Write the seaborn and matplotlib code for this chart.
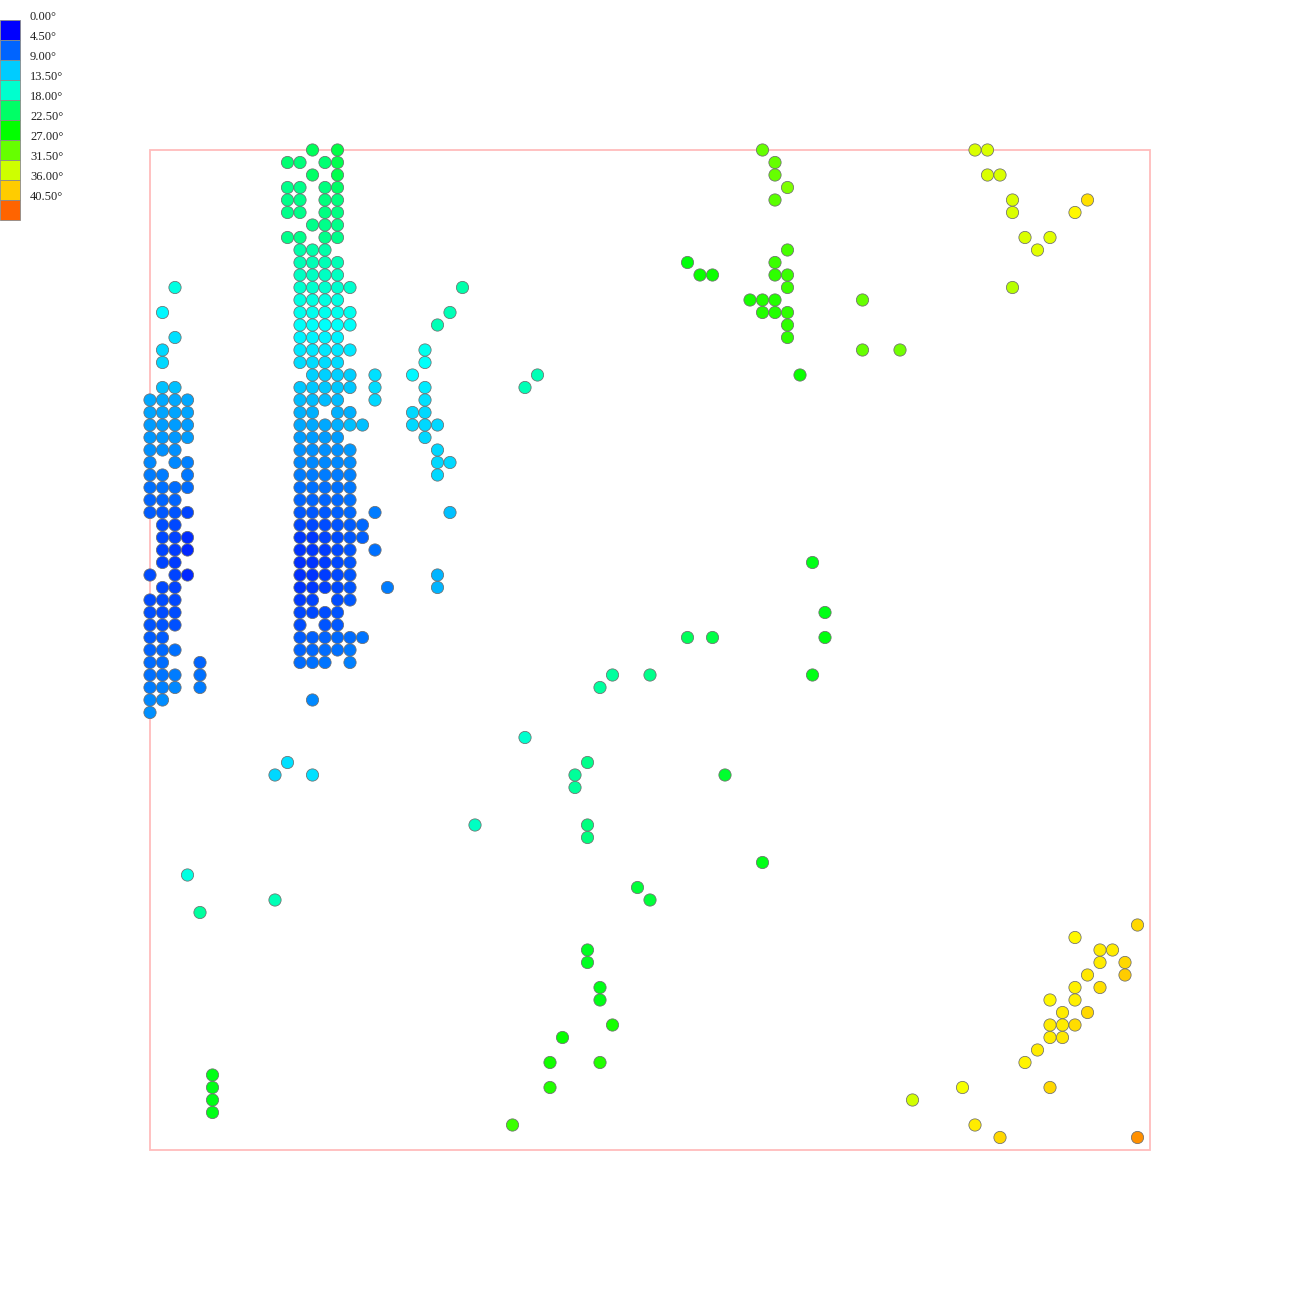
import numpy as np
import pandas as pd
import matplotlib
matplotlib.use("Agg")
import matplotlib.pyplot as plt
from matplotlib.colors import ListedColormap, hsv_to_rgb
from matplotlib.patches import Rectangle
import seaborn as sns

# ---------------- data: (grid column i, grid row j, angle in degrees) ----------------
left_cluster = [
    (2, 11, 12.5), (1, 13, 11.0), (2, 15, 10.0), (1, 16, 9.5), (1, 17, 9.5),
    (1, 19, 8.5), (2, 19, 8.5),
    (0, 20, 7.5), (1, 20, 7.5), (2, 20, 7.5), (3, 20, 7.5),
    (0, 21, 7.3), (1, 21, 7.3), (2, 21, 7.3), (3, 21, 7.3),
    (0, 22, 7.0), (1, 22, 7.0), (2, 22, 7.0), (3, 22, 7.0),
    (0, 23, 6.8), (1, 23, 6.8), (2, 23, 6.8), (3, 23, 7.0),
    (0, 24, 6.5), (1, 24, 6.5), (2, 24, 6.5),
    (0, 25, 6.0), (2, 25, 6.0), (3, 25, 5.8),
    (0, 26, 5.5), (1, 26, 5.5), (3, 26, 5.3),
    (0, 27, 5.0), (1, 27, 5.0), (2, 27, 4.8), (3, 27, 4.8),
    (0, 28, 4.5), (1, 28, 4.5), (2, 28, 4.5),
    (0, 29, 4.2), (1, 29, 4.0), (2, 29, 3.8), (3, 29, 3.0),
    (1, 30, 3.5), (2, 30, 3.3),
    (1, 31, 3.2), (2, 31, 3.0), (3, 31, 2.0),
    (1, 32, 3.0), (2, 32, 2.8), (3, 32, 1.8),
    (1, 33, 3.0), (2, 33, 2.8),
    (0, 34, 3.5), (2, 34, 3.0), (3, 34, 1.8),
    (1, 35, 3.2), (2, 35, 3.0),
    (0, 36, 3.5), (1, 36, 3.4), (2, 36, 3.3),
    (0, 37, 3.6), (1, 37, 3.5), (2, 37, 3.4),
    (0, 38, 3.8), (1, 38, 3.7), (2, 38, 3.6),
    (0, 39, 4.2), (1, 39, 4.2),
    (0, 40, 4.5), (1, 40, 4.6), (2, 40, 5.0),
    (0, 41, 4.8), (1, 41, 4.9), (4, 41, 4.5),
    (0, 42, 5.0), (1, 42, 5.2), (2, 42, 5.5), (4, 42, 5.0),
    (0, 43, 5.5), (1, 43, 5.7), (2, 43, 6.0), (4, 43, 5.5),
    (0, 44, 6.0), (1, 44, 6.2),
    (0, 45, 6.5),
]

center_column = [
    (13, 0, 18.5), (15, 0, 19.5),
    (11, 1, 17.5), (12, 1, 17.2), (14, 1, 17.5), (15, 1, 19.0),
    (13, 2, 18.0), (15, 2, 19.0),
    (11, 3, 16.5), (12, 3, 16.5), (14, 3, 17.0), (15, 3, 18.0),
    (11, 4, 16.5), (12, 4, 16.5), (14, 4, 17.0), (15, 4, 17.0),
    (11, 5, 16.5), (12, 5, 16.5), (14, 5, 16.8), (15, 5, 16.8),
    (13, 6, 16.5), (14, 6, 16.5), (15, 6, 16.5),
    (11, 7, 16.5), (12, 7, 16.5), (14, 7, 16.5), (15, 7, 16.5),
    (12, 8, 15.0), (13, 8, 15.0), (14, 8, 15.0),
    (12, 9, 14.5), (13, 9, 14.5), (14, 9, 14.5), (15, 9, 14.5),
    (12, 10, 14.0), (13, 10, 14.0), (14, 10, 14.0), (15, 10, 14.0),
    (12, 11, 13.5), (13, 11, 13.5), (14, 11, 13.5), (15, 11, 13.5), (16, 11, 13.5),
    (12, 12, 12.5), (13, 12, 12.5), (14, 12, 12.5), (15, 12, 12.5),
    (12, 13, 12.0), (13, 13, 12.0), (14, 13, 12.0), (15, 13, 12.0), (16, 13, 12.0),
    (12, 14, 11.5), (13, 14, 11.5), (14, 14, 11.5), (15, 14, 11.5), (16, 14, 11.5),
    (12, 15, 10.8), (13, 15, 10.8), (14, 15, 10.8), (15, 15, 10.8),
    (12, 16, 10.3), (13, 16, 10.3), (14, 16, 10.3), (15, 16, 10.3), (16, 16, 10.3),
    (12, 17, 9.8), (13, 17, 9.8), (14, 17, 9.8), (15, 17, 9.8),
    (13, 18, 9.3), (14, 18, 9.3), (15, 18, 9.3), (16, 18, 9.3), (18, 18, 10.0),
    (12, 19, 8.8), (13, 19, 8.8), (14, 19, 8.8), (15, 19, 8.8), (16, 19, 8.8), (18, 19, 9.8),
    (12, 20, 8.3), (13, 20, 8.3), (14, 20, 8.3), (15, 20, 8.3), (18, 20, 9.5),
    (12, 21, 7.8), (13, 21, 7.8), (15, 21, 7.8), (16, 21, 7.8),
    (12, 22, 7.5), (13, 22, 7.5), (14, 22, 7.5), (15, 22, 7.8), (16, 22, 8.5), (17, 22, 8.5),
    (12, 23, 7.0), (13, 23, 7.0), (14, 23, 7.0), (15, 23, 7.0),
    (12, 24, 6.5), (13, 24, 6.5), (14, 24, 6.5), (15, 24, 6.5), (16, 24, 6.7),
    (12, 25, 6.0), (13, 25, 6.0), (14, 25, 6.0), (15, 25, 6.0), (16, 25, 6.3),
    (12, 26, 5.5), (13, 26, 5.5), (14, 26, 5.5), (15, 26, 5.5), (16, 26, 5.8),
    (12, 27, 5.0), (13, 27, 5.0), (14, 27, 5.0), (15, 27, 5.0), (16, 27, 5.4),
    (12, 28, 4.5), (13, 28, 4.5), (14, 28, 4.5), (15, 28, 4.7), (16, 28, 5.0),
    (12, 29, 4.0), (13, 29, 4.0), (14, 29, 4.0), (15, 29, 4.3), (16, 29, 4.7), (18, 29, 5.5),
    (12, 30, 3.3), (13, 30, 3.3), (14, 30, 3.5), (15, 30, 3.8), (16, 30, 4.2), (17, 30, 4.6),
    (12, 31, 2.5), (13, 31, 2.5), (14, 31, 3.0), (15, 31, 3.4), (16, 31, 4.0), (17, 31, 4.3),
    (12, 32, 2.3), (13, 32, 2.5), (14, 32, 2.8), (15, 32, 3.2), (16, 32, 3.8), (18, 32, 5.0),
    (12, 33, 2.2), (13, 33, 2.4), (14, 33, 2.8), (15, 33, 3.2), (16, 33, 3.8),
    (12, 34, 2.2), (13, 34, 2.4), (14, 34, 2.8), (15, 34, 3.2), (16, 34, 3.8),
    (12, 35, 2.3), (13, 35, 2.5), (14, 35, 2.9), (15, 35, 3.3), (16, 35, 3.8), (19, 35, 5.5),
    (12, 36, 2.8), (13, 36, 3.0), (15, 36, 3.4), (16, 36, 3.9),
    (12, 37, 3.2), (13, 37, 3.3), (14, 37, 3.5), (15, 37, 3.7),
    (12, 38, 3.5), (14, 38, 3.7), (15, 38, 3.9),
    (12, 39, 4.2), (13, 39, 4.3), (14, 39, 4.5), (15, 39, 4.6), (16, 39, 4.9), (17, 39, 5.2),
    (12, 40, 4.5), (13, 40, 4.6), (14, 40, 4.8), (15, 40, 5.0), (16, 40, 5.4),
    (12, 41, 4.8), (13, 41, 5.0), (14, 41, 5.2), (16, 41, 5.7),
    (13, 44, 6.0),
]

middle_column = [
    (25, 11, 15.0), (24, 13, 14.5), (23, 14, 14.5), (22, 16, 12.0), (22, 17, 11.5),
    (21, 18, 11.0), (22, 19, 10.5), (22, 20, 10.0), (21, 21, 9.5), (22, 21, 9.5),
    (21, 22, 9.5), (22, 22, 9.5), (23, 22, 9.5), (22, 23, 9.5), (23, 24, 9.5),
    (23, 25, 9.5), (24, 25, 9.5), (23, 26, 9.5), (24, 29, 8.5), (23, 34, 8.0),
    (23, 35, 8.0), (31, 18, 14.5), (30, 19, 14.5),
]

top_green = [
    (49, 0, 27.0), (50, 1, 27.0), (50, 2, 27.0), (51, 3, 28.0), (50, 4, 26.5),
    (51, 8, 25.5), (43, 9, 22.0), (50, 9, 25.0), (44, 10, 23.0), (45, 10, 23.0),
    (50, 10, 24.5), (51, 10, 25.0), (51, 11, 25.0), (48, 12, 23.5), (49, 12, 24.0),
    (50, 12, 24.0), (57, 12, 27.0), (49, 13, 24.0), (50, 13, 24.0), (51, 13, 24.5),
    (51, 14, 24.5), (51, 15, 24.5), (57, 16, 27.0), (60, 16, 27.5), (52, 18, 23.0),
]

top_yellow = [
    (66, 0, 32.0), (67, 0, 32.0), (67, 2, 32.0), (68, 2, 32.0), (69, 4, 32.0),
    (69, 5, 32.0), (75, 4, 35.0), (74, 5, 34.0), (70, 7, 32.0), (72, 7, 32.5),
    (71, 8, 32.5), (69, 11, 30.5),
]

bottom_yellow = [
    (79, 62, 35.5), (74, 63, 34.0), (76, 64, 34.5), (77, 64, 34.5), (76, 65, 34.5),
    (78, 65, 35.5), (78, 66, 36.0), (75, 66, 34.8), (74, 67, 34.3), (76, 67, 35.0),
    (72, 68, 34.0), (74, 68, 34.3), (73, 69, 34.5), (75, 69, 35.5), (72, 70, 34.5),
    (73, 70, 34.5), (74, 70, 35.2), (72, 71, 34.5), (73, 71, 34.8), (71, 72, 34.5),
    (70, 73, 34.2), (65, 75, 33.3), (72, 75, 35.5), (61, 76, 31.8), (66, 78, 34.5),
    (68, 79, 35.5), (79, 79, 38.5),
]

middle_scatter = [
    (53, 33, 21.5), (54, 37, 21.5), (43, 39, 18.5), (45, 39, 19.5), (54, 39, 21.8),
    (37, 42, 15.5), (40, 42, 16.5), (36, 43, 15.5), (53, 42, 21.5), (30, 47, 13.5),
    (35, 49, 16.5), (34, 50, 15.8), (34, 51, 15.8), (46, 50, 20.5), (26, 54, 14.0),
    (35, 54, 17.0), (35, 55, 17.0), (49, 57, 21.5), (39, 59, 20.0), (40, 60, 20.0),
]

lower_middle = [
    (35, 64, 21.0), (35, 65, 21.0), (36, 67, 21.5), (36, 68, 21.5), (37, 70, 23.5),
    (33, 71, 22.8), (32, 73, 23.3), (36, 73, 24.0), (32, 75, 24.0), (29, 78, 25.0),
]

lower_left = [
    (5, 74, 21.5), (5, 75, 21.5), (5, 76, 21.5), (5, 77, 21.5), (3, 58, 12.5),
    (4, 61, 15.5), (10, 60, 14.5), (11, 49, 10.0), (10, 50, 9.5), (13, 50, 10.0),
]

legend_values = [0.0, 4.5, 9.0, 13.5, 18.0, 22.5, 27.0, 31.5, 36.0, 40.5]
angle_max = 45.0
grid_size = 80

# ---------------- build table ----------------
groups = [left_cluster, center_column, middle_column, top_green, top_yellow,
          bottom_yellow, middle_scatter, lower_middle, lower_left]
rows = [r for g in groups for r in g]
df = pd.DataFrame(rows, columns=["gx", "gy", "angle"])

# hue colour map: blue (240 deg hue) at 0 -> red (0 deg hue) at 45
hues = np.linspace(240 / 360, 0, 256)
cmap = ListedColormap(hsv_to_rgb(np.stack([hues, np.ones_like(hues), np.ones_like(hues)], axis=1)))

sns.set_theme(style="white")
plt.rcParams["font.family"] = ["Liberation Serif", "DejaVu Serif"]

W = H = 1300
fig = plt.figure(figsize=(13, 13), dpi=100)
ax = fig.add_axes([0, 0, 1, 1])
ax.set_xlim(-12, 92)
ax.set_ylim(92, -12)
ax.axis("off")

ax.add_patch(Rectangle((0, 0), grid_size, grid_size, fill=False,
                       edgecolor="#ffbcbc", linewidth=1.3, zorder=1))

sns.scatterplot(data=df, x="gx", y="gy", hue="angle", palette=cmap,
                hue_norm=(0, angle_max), s=78, edgecolor="#6e6e6e",
                linewidth=0.55, legend=False, ax=ax, zorder=3)
ax.set_xlabel("")
ax.set_ylabel("")

# ---------------- legend (colour boxes with labels) ----------------
box_w, box_h, top = 20, 20, 20
for k, v in enumerate(legend_values):
    y0 = top + k * box_h
    fig.patches.append(Rectangle((0, 1 - (y0 + box_h) / H), box_w / W, box_h / H,
                                 transform=fig.transFigure, facecolor=cmap(v / angle_max),
                                 edgecolor="#8a8a8a", linewidth=0.6))
    fig.text(30 / W, 1 - (y0 - 3) / H, f"{v:.2f}\u00b0", fontsize=9.0,
             color="#222222", ha="left", va="center")

fig.savefig("out.png", dpi=100, facecolor="white")
